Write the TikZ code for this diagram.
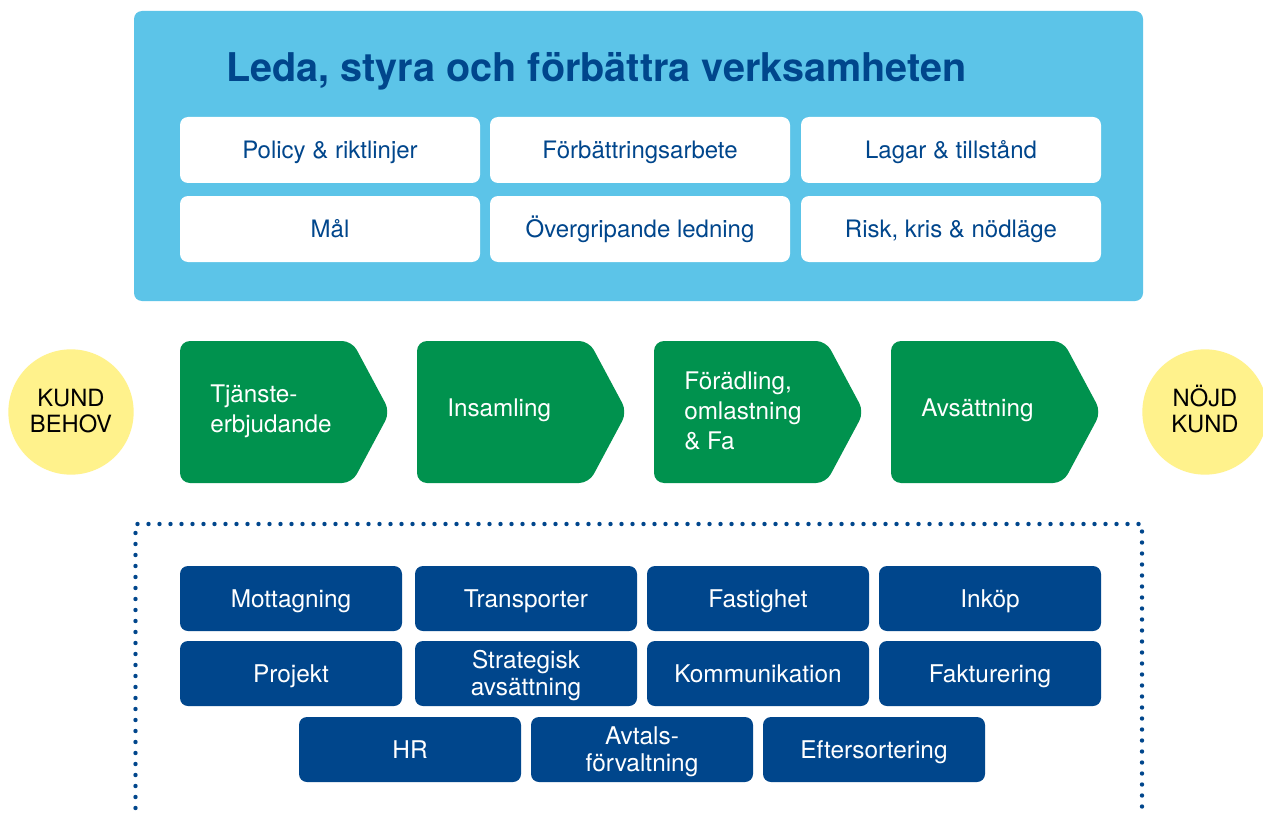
\documentclass[tikz,border=0pt]{standalone}
\usepackage{fontspec}
\setmainfont{TeX Gyre Heros}
\definecolor{lblue}{RGB}{92,196,232}
\definecolor{dblue}{RGB}{0,70,140}
\definecolor{pgreen}{RGB}{0,146,78}
\definecolor{pyellow}{RGB}{255,242,140}
\tikzset{
  wbox/.style={fill=white, rounded corners=6pt, minimum width=225pt, minimum height=49.5pt, inner sep=0pt,
    text=dblue, text height=13pt, text depth=0pt, font=\fontsize{18}{21}\selectfont},
  bbox/.style={fill=dblue, rounded corners=6pt, minimum width=166.5pt, minimum height=48.75pt, inner sep=0pt,
    text=white, align=center, text height=13.2pt, text depth=0pt, font=\fontsize{18.3}{20.5}\selectfont},
  bbox2/.style={bbox, text height=33.7pt},
  gtext/.style={anchor=west, text=white, align=left, inner sep=0pt, text height=13.1pt, text depth=0pt,
    font=\fontsize{18.2}{22.5}\selectfont},
  gtext2/.style={gtext, text height=35.6pt},
  gtext3/.style={gtext, text height=58.1pt},
  circ/.style={circle, fill=pyellow, minimum size=94pt, inner sep=0pt, align=center,
    text height=32.3pt, text depth=1.5pt, font=\fontsize{17.8}{19.5}\selectfont},
  garrow/.style={fill=pgreen, rounded corners=7.5pt},
  dotline/.style={draw=dblue, line width=3.3pt, line cap=round, dash pattern=on 0pt off 8.25pt}
}
\begin{document}
\begin{tikzpicture}[x=0.75pt, y=-0.75pt]
\useasboundingbox[fill=white] (0,0) rectangle (1263,820);
% top panel
\fill[lblue, rounded corners=6pt] (134,11) rectangle (1143,301);
\node[anchor=base west, inner sep=0pt, text=dblue, font=\fontsize{29.7}{34}\selectfont\bfseries] (title) at (226,82) {Leda, styra och förbättra verksamheten};
\node[wbox] (w1) at (330,150) {Policy \& riktlinjer};
\node[wbox] (w2) at (640,150) {Förbättringsarbete};
\node[wbox] (w3) at (951,150) {Lagar \& tillstånd};
\node[wbox] (w4) at (330,229) {Mål};
\node[wbox] (w5) at (640,229) {Övergripande ledning};
\node[wbox] (w6) at (951,229) {Risk, kris \& nödläge};
% process chain
\foreach \x in {180,417,654,891}{
  \fill[garrow] (\x,412) -- (\x,341) -- ({\x+172},341) -- ({\x+210},412) -- ({\x+172},483) -- (\x,483) -- cycle;
}
\node[gtext2] (g1) at (210,408.5) {Tjänste-\\erbjudande};
\node[gtext] (g2) at (447,408) {Insamling};
\node[gtext3] (g3) at (684,410.5) {Förädling,\\omlastning\\\& Fa};
\node[gtext] (g4) at (921,408) {Avsättning};
\node[circ] (kb) at (71,412) {KUND\\BEHOV};
\node[circ] (nk) at (1205,412) {NÖJD\\KUND};
% support area
\draw[dotline] (135.5,808) -- (135.5,524) -- (1142,524) -- (1142,808);
\node[bbox] (b1) at (291,598.5) {Mottagning};
\node[bbox] (b2) at (526,598.5) {Transporter};
\node[bbox] (b3) at (758,598.5) {Fastighet};
\node[bbox] (b4) at (990,598.5) {Inköp};
\node[bbox] (b5) at (291,673.5) {Projekt};
\node[bbox2] (b6) at (526,673.5) {Strategisk\\avsättning};
\node[bbox] (b7) at (758,673.5) {Kommunikation};
\node[bbox] (b8) at (990,673.5) {Fakturering};
\node[bbox] (b9) at (410,749.5) {HR};
\node[bbox2] (b10) at (642,749.5) {Avtals-\\förvaltning};
\node[bbox] (b11) at (874,749.5) {Eftersortering};
\end{tikzpicture}
\end{document}
